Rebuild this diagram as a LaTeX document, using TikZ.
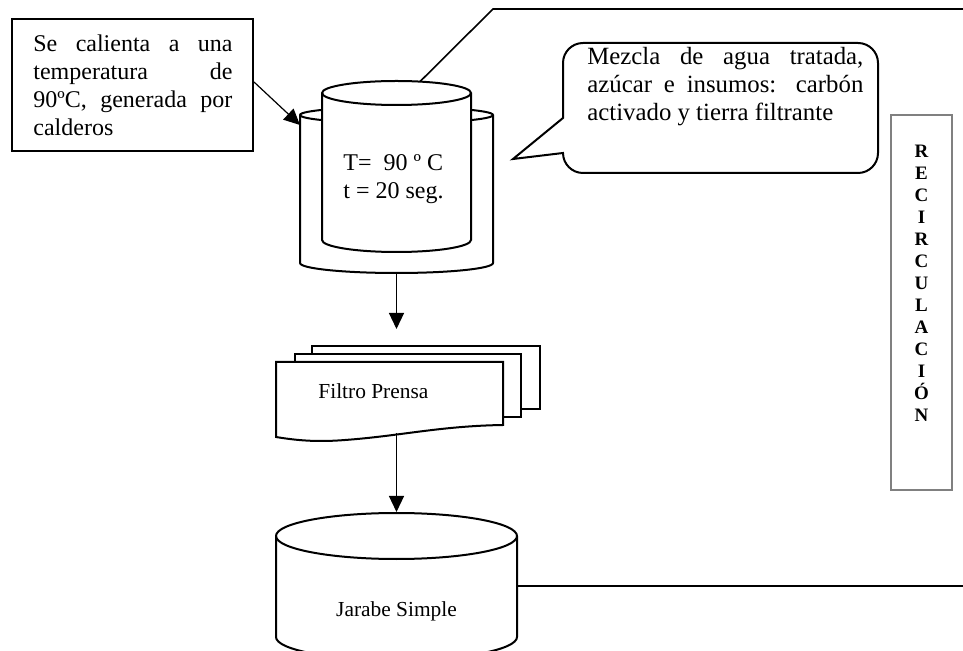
\documentclass[tikz,border=0pt]{standalone}
\usepackage{fontspec}
\setmainfont{Liberation Serif}
\usetikzlibrary{arrows.meta}
\newcommand{\jl}[2]{\hbox to #1{#2}}
\newcommand{\vlines}[2][14pt]{\vtop{\baselineskip=#1\lineskiplimit=-20pt\lineskip=0pt #2}}
\newcommand{\cletter}[1]{\hbox to 20pt{\hss#1\hss}}
\begin{document}
\begin{tikzpicture}[x=0.5pt,y=0.5pt,
  outline/.style={draw=black, line width=1pt, fill=white},
  conn/.style={draw=black, line width=0.8pt},
  arr/.style={draw=black, line width=0.6pt, -{Triangle[length=8pt,width=7.5pt]}},
  txt/.style={inner sep=0pt, font=\fontsize{12}{14}\selectfont},
  smalltxt/.style={inner sep=0pt, font=\fontsize{10.7}{13}\selectfont},
  calltxt/.style={inner sep=0pt, font=\fontsize{12.4}{14}\selectfont},
  recbox/.style={draw=black!50, line width=1pt, fill=white, inner sep=0pt}]
\useasboundingbox (0,0) rectangle (963,-651);
\fill[white] (0,0) rectangle (963,-651);

% left text box
\node[outline, minimum width=120.5pt, minimum height=66pt, inner sep=0pt] (lbox) at (132.5,-85) {};
\node[txt, anchor=base west] (ltext) at (33,-52) {\vlines{\jl{99.5pt}{Se calienta a una}\jl{99.5pt}{temperatura de}\jl{99.5pt}{90ºC, generada por}\hbox{calderos}}};

% tank: outer cylinder
\draw[outline] (300,-115) -- (300,-263) arc[start angle=180,end angle=360,x radius=48.25pt,y radius=5pt] -- (493,-115) arc[start angle=0,end angle=180,x radius=48.25pt,y radius=4pt] -- cycle;
\draw[line width=1pt] (300,-115) arc[start angle=180,end angle=360,x radius=48.25pt,y radius=4pt];
% tank: inner cylinder
\draw[outline] (322,-93) -- (322,-240) arc[start angle=180,end angle=360,x radius=37.25pt,y radius=6pt] -- (471,-93) arc[start angle=0,end angle=180,x radius=37.25pt,y radius=6pt] -- cycle;
\draw[line width=1pt] (322,-93) arc[start angle=180,end angle=360,x radius=37.25pt,y radius=6pt];
\node[txt, anchor=base west] (tank) at (343,-171) {\vlines{\hbox{T=\ \ 90 º C}\hbox{t = 20 seg.}}};

\coordinate (tankin) at (300,-125);
\draw[arr] ([yshift=1.5pt]lbox.east) -- (tankin);

% recirculation line top
\coordinate (itop) at (420,-81.6);
\coordinate (tbend) at (493,-9);
\coordinate (tend) at (963,-9);
\draw[conn] (itop) -- (tbend) -- (tend);

% callout
\draw[outline] (563,-118) -- (563,-63) arc[start angle=180,end angle=90,radius=10pt] -- (858,-43) arc[start angle=90,end angle=0,radius=10pt] -- (878,-153) arc[start angle=0,end angle=-90,radius=10pt] -- (583,-173) arc[start angle=270,end angle=180,radius=10pt] -- (563,-153) -- (513,-159) -- cycle;
\node[calltxt, anchor=base west] (mez) at (587,-65) {\vlines{\jl{138pt}{Mezcla de agua tratada,}\jl{138pt}{azúcar e insumos: carbón}\hbox{activado y tierra filtrante}}};

% recirculation box
\node[recbox, minimum width=30.5pt, minimum height=187.5pt] (rbox) at (921.5,-302.5) {};
\node[inner sep=0pt, anchor=base, font=\fontsize{9.5}{11}\selectfont\bfseries] (rtext) at (921.5,-158) {\vlines[11pt]{\cletter{R}\cletter{E}\cletter{C}\cletter{I}\cletter{R}\cletter{C}\cletter{U}\cletter{L}\cletter{A}\cletter{C}\cletter{I}\cletter{Ó}\cletter{N}}};

% arrow tank -> filter
\coordinate (tankbot) at (396.5,-273);
\coordinate (filtin) at (396.5,-329);
\draw[arr] (tankbot) -- (filtin);

% filter (multi-document)
\draw[outline] (312,-346) rectangle (540,-409);
\draw[outline] (295,-354) rectangle (521,-417);
\draw[outline] (276,-362) -- (503,-362) -- (503,-425) .. controls (440,-426) and (400,-436) .. (345,-440) .. controls (320,-442) and (300,-441) .. (276,-437) -- cycle;
\node[smalltxt, anchor=base west] (filt) at (318,-399) {Filtro Prensa};

% arrow filter -> jarabe
\coordinate (filtout) at (396.5,-433);
\coordinate (jin) at (396.5,-512);
\draw[arr] (filtout) -- (jin);

% jarabe cylinder
\draw[outline] (276,-536) -- (276,-637) arc[start angle=180,end angle=360,x radius=60.25pt,y radius=11.5pt] -- (517,-536) arc[start angle=0,end angle=180,x radius=60.25pt,y radius=11.5pt] -- cycle;
\draw[line width=1pt] (276,-536) arc[start angle=180,end angle=360,x radius=60.25pt,y radius=11.5pt];
\node[smalltxt, anchor=base] (jar) at (396.5,-616) {Jarabe Simple};

\coordinate (jside) at (517,-586);
\coordinate (jend) at (963,-586);
\draw[conn] (jside) -- (jend);
\end{tikzpicture}
\end{document}
